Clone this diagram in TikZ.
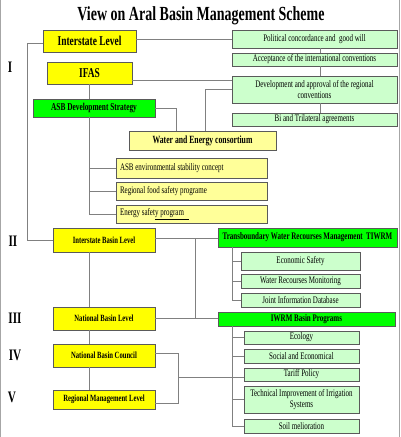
\documentclass[tikz,border=0pt]{standalone}
\usepackage{fontspec}
\setmainfont{Liberation Serif}[FakeStretch=0.7]
\definecolor{cyel}{HTML}{FFFF00}
\definecolor{cgrn}{HTML}{00FF00}
\definecolor{clyel}{HTML}{FFFF99}
\definecolor{clgrn}{HTML}{CCFFCC}
\definecolor{cbord}{HTML}{5A5A5A}
\definecolor{cline}{HTML}{808080}
\newcommand\bxx[7]{\node[#1, minimum width={#4pt-#2pt}, minimum height={#5pt-#3pt}] (#6) at ({(#2+#4)/2},{(#3+#5)/2}) {#7};}
\newcommand\lft[1]{\makebox[143pt][l]{#1}}
\begin{document}
\begin{tikzpicture}[x=1pt,y=-1pt,
  box/.style={draw=cbord, line width=0.6pt, inner sep=0pt, align=center, text=black},
  ylw/.style={box, fill=cyel, font=\fontsize{9.5}{11}\selectfont\bfseries},
  ylwbig/.style={box, fill=cyel, font=\fontsize{13.5}{15}\selectfont\bfseries},
  grn/.style={box, fill=cgrn, font=\fontsize{10}{12}\selectfont\bfseries},
  lylw/.style={box, fill=clyel, font=\fontsize{10}{12}\selectfont},
  lgrn/.style={box, fill=clgrn, font=\fontsize{10}{11.5}\selectfont},
  roman/.style={font=\fontsize{16}{18}\selectfont\bfseries, inner sep=0pt},
  ln/.style={draw=cline, line width=0.8pt}]
\useasboundingbox (0,0) rectangle (400,437);
\draw[draw=cline!70, line width=0.8pt] (0.5,0) -- (0.5,437) (399.5,0) -- (399.5,437);
\node[font=\fontsize{20}{22}\selectfont\bfseries, inner sep=0pt] (title) at (201,16) {View on Aral Basin Management Scheme};
% roman numerals
\node[roman] (r1) at (10,67) {I};
\node[roman] (r2) at (13,241) {II};
\node[roman] (r3) at (15,318) {III};
\node[roman] (r4) at (15,355) {IV};
\node[roman] (r5) at (12,397) {V};
% helper coordinates for vertical trunks
\coordinate (m1) at (195,0);
\coordinate (m2) at (178,0);
\coordinate (m3) at (232,0);
\coordinate (m4) at (27,0);
\coordinate (m5) at (176,0);
\coordinate (m6) at (320,0);
\coordinate (m7) at (89,0);
% boxes
\bxx{ylwbig}{43}{30}{136}{52}{il}{Interstate Level}
\bxx{ylwbig}{47}{62}{132}{84}{ifas}{IFAS}
\bxx{grn, font=\fontsize{10.5}{12}\selectfont\bfseries}{33}{99}{155}{117}{asb}{ASB Development Strategy}
\bxx{lylw, font=\fontsize{11}{13}\selectfont\bfseries}{129}{131}{276}{150}{wec}{Water and Energy consortium}
\bxx{lgrn}{232}{30}{397}{48}{pc}{Political concordance and\ \ good will}
\bxx{lgrn}{232}{53}{397}{66}{acc}{Acceptance of the international conventions}
\bxx{lgrn}{232}{76}{397}{103}{dev}{Development and approval of the regional\\conventions}
\bxx{lgrn}{232}{113}{397}{126}{bi}{Bi and Trilateral agreements}
\bxx{lylw}{116}{158}{267}{178}{env}{\lft{ASB environmental stability concept}}
\bxx{lylw}{116}{182}{267}{200}{rfs}{\lft{Regional food safety programe}}
\bxx{lylw}{116}{205}{267}{223}{esp}{\lft{Energy safet\underline{y program\ \ \ }}}
\bxx{ylw}{53}{228}{155}{252}{ibl}{Interstate Basin Level}
\bxx{grn}{218}{228}{397}{247}{tb}{Transboundary Water Recourses Management\ \ TIWRM}
\bxx{lgrn}{241}{252}{360}{270}{es}{Economic Safety}
\bxx{lgrn}{241}{274}{360}{288}{wrm}{Water Recourses Monitoring}
\bxx{lgrn}{241}{293}{360}{307}{jid}{Joint Information Database}
\bxx{ylw}{53}{307}{155}{330}{nbl}{National Basin Level}
\bxx{grn}{218}{312}{395}{326}{iwrm}{IWRM Basin Programs}
\bxx{ylw}{53}{344}{155}{367}{nbc}{National Basin Council}
\bxx{ylw}{53}{390}{155}{409}{rml}{Regional Management Level}
\bxx{lgrn}{244}{331}{359}{344}{eco}{Ecology}
\bxx{lgrn}{244}{349}{359}{363}{soc}{Social and Economical}
\bxx{lgrn}{244}{368}{359}{381}{tar}{Tariff Policy}
\bxx{lgrn}{244}{386}{359}{413}{tech}{Technical Improvement of Irrigation\\Systems}
\bxx{lgrn}{244}{419}{359}{433}{soil}{Soil melioration}
% connectors
\draw[ln] ([yshift=2pt]il.east) -- ([yshift=2pt]il.east -| pc.west);
\draw[ln] ([yshift=-2pt]il.west) -| (m4 |- ibl.west) -- (ibl.west);
\draw[ln] ([yshift=4pt]ifas.south east) -- ([yshift=4pt]ifas.south east -| dev.west);
\draw[ln] (m6 |- pc.south) -- (m6 |- acc.north);
\draw[ln] (m6 |- acc.south) -- (m6 |- dev.north);
\draw[ln] (m6 |- dev.south) -- (m6 |- bi.north);
\draw[ln] (dev.west) -| ([xshift=2.5pt]wec.north);
\draw[ln] (m7 |- ifas.south) -- (m7 |- asb.north);
\draw[ln] (m7 |- asb.south) |- (esp.west);
\draw[ln] (m7 |- env.west) -- (env.west);
\draw[ln] (m7 |- rfs.west) -- (rfs.west);
\draw[ln] (asb.east) -| (m5 |- wec.north);
\draw[ln] ([yshift=2pt]ibl.east) -- ([yshift=2pt]ibl.east -| tb.west);
\draw[ln] ([yshift=2pt]m1 |- ibl.east) -- (m1 |- nbl.east);
\draw[ln] (nbl.east) -- (nbl.east -| iwrm.west);
\draw[ln] (m7 |- ibl.south) -- (m7 |- nbl.north);
\draw[ln] (m7 |- nbl.south) -- (m7 |- nbc.north);
\draw[ln] (m7 |- nbc.south) -- (m7 |- rml.north);
\draw[ln] ([yshift=2pt]nbc.east) -| ([yshift=-4pt]m2 |- rml.east) -- ([yshift=-4pt]rml.east);
\draw[ln] ([yshift=-2.5pt]tar.west) -- ([yshift=-2.5pt]tar.west -| m2);
\draw[ln] (m3 |- tb.south) |- (jid.west);
\draw[ln] (m3 |- es.west) -- (es.west);
\draw[ln] (m3 |- wrm.west) -- (wrm.west);
\draw[ln] (m3 |- iwrm.south) |- (soil.west);
\draw[ln] (m3 |- eco.west) -- (eco.west);
\draw[ln] (m3 |- soc.west) -- (soc.west);
\draw[ln] (m3 |- tech.west) -- (tech.west);
\end{tikzpicture}
\end{document}
